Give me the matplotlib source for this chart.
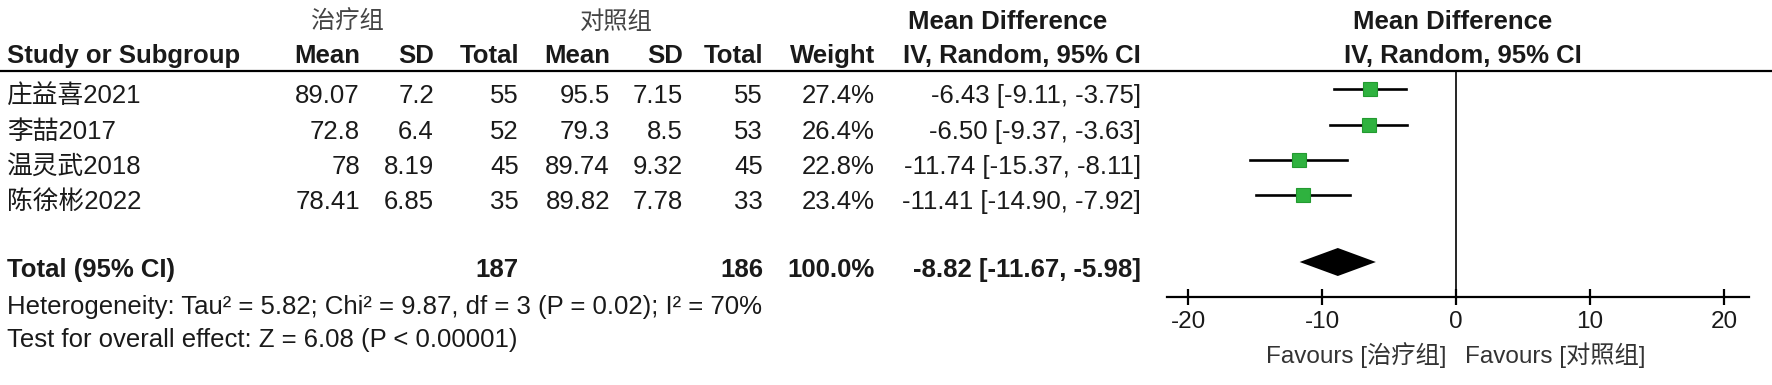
import matplotlib
matplotlib.use("Agg")
import matplotlib.pyplot as plt
from matplotlib import font_manager

# fonts: narrow latin face if present, CJK fallback
names = {f.name for f in font_manager.fontManager.ttflist}
latin = "Liberation Sans Narrow" if "Liberation Sans Narrow" in names else "Liberation Sans"
plt.rcParams["font.family"] = [latin, "Noto Sans CJK SC", "DejaVu Sans"]

# data
studies = ["庄益喜2021", "李喆2017", "温灵武2018", "陈徐彬2022"]
exp_mean = [89.07, 72.8, 78, 78.41]
exp_sd = [7.2, 6.4, 8.19, 6.85]
exp_n = [55, 52, 45, 35]
ctl_mean = [95.5, 79.3, 89.74, 89.82]
ctl_sd = [7.15, 8.5, 9.32, 7.78]
ctl_n = [55, 53, 45, 33]
weight = [27.4, 26.4, 22.8, 23.4]
md = [-6.43, -6.50, -11.74, -11.41]
md_lo = [-9.11, -9.37, -15.37, -14.90]
md_hi = [-3.75, -3.63, -8.11, -7.92]
total_n = [187, 186]
total_md = [-8.82, -11.67, -5.98]
het_text = "Heterogeneity: Tau² = 5.82; Chi² = 9.87, df = 3 (P = 0.02); I² = 70%"
test_text = "Test for overall effect: Z = 6.08 (P < 0.00001)"
xticks = [-20, -10, 0, 10, 20]
group_names = ["治疗组", "对照组"]

W, H = 1772, 385
fig = plt.figure(figsize=(W / 100, H / 100), dpi=100)
tab = fig.add_axes([0, 0, 1, 1])
tab.set_xlim(0, W)
tab.set_ylim(H, 0)
tab.axis("off")

fs = 18.5
col = "#1a1a1a"
cap = 6.8  # half cap height in px, to put baselines


def put(x, y, s, ha="right", bold=False, **kw):
    kw.setdefault("color", col)
    kw.setdefault("fontsize", fs)
    tab.text(x, y + cap, s, ha=ha, va="baseline",
             fontweight="bold" if bold else "normal", **kw)


# column right edges (px)
cx = [360, 434, 519, 610, 683, 763, 875, 1141]
lx = 7

# header
put(347, 22, group_names[0], ha="center", color="#444444", fontsize=17.5)
put(616, 22, group_names[1], ha="center", color="#444444", fontsize=17.5)
put(1008, 22, "Mean Difference", ha="center", bold=True)
put(1453, 22, "Mean Difference", ha="center", bold=True)
put(lx, 56, "Study or Subgroup", ha="left", bold=True)
for x, s in zip(cx, ["Mean", "SD", "Total", "Mean", "SD", "Total", "Weight"]):
    put(x, 56, s, bold=True)
put(1022, 56, "IV, Random, 95% CI", ha="center", bold=True)
put(1463, 56, "IV, Random, 95% CI", ha="center", bold=True)
tab.plot([0, W], [71, 71], color="black", lw=1.6, solid_capstyle="butt")

row_y = [96, 132, 167, 202]
for i, y in enumerate(row_y):
    put(lx, y, studies[i], ha="left")
    vals = [f"{exp_mean[i]:g}", f"{exp_sd[i]:g}", str(exp_n[i]),
            f"{ctl_mean[i]:g}", f"{ctl_sd[i]:g}", str(ctl_n[i]),
            f"{weight[i]:.1f}%",
            f"{md[i]:.2f} [{md_lo[i]:.2f}, {md_hi[i]:.2f}]"]
    for x, s in zip(cx, vals):
        put(x, y, s)

ty = 270
put(lx, ty, "Total (95% CI)", ha="left", bold=True)
put(cx[2], ty, str(total_n[0]), bold=True)
put(cx[5], ty, str(total_n[1]), bold=True)
put(cx[6], ty, f"{sum(weight):.1f}%", bold=True)
put(cx[7], ty, f"{total_md[0]:.2f} [{total_md[1]:.2f}, {total_md[2]:.2f}]", bold=True)
put(lx, 307, het_text, ha="left")
put(lx, 340, test_text, ha="left")

# forest panel
x0_px, ppu = 1456, 13.4
left_px, right_px = 1167, 1749
top_px, axis_px = 71, 297
fp = fig.add_axes([left_px / W, 1 - axis_px / H, (right_px - left_px) / W, (axis_px - top_px) / H])
fp.set_xlim((left_px - x0_px) / ppu, (right_px - x0_px) / ppu)
fp.set_ylim(axis_px, top_px)
fp.patch.set_alpha(0)
for s in ["top", "left", "right"]:
    fp.spines[s].set_visible(False)
fp.spines["bottom"].set_linewidth(1.6)
fp.set_yticks([])
fp.set_xticks(xticks)
fp.set_xticklabels([str(t) for t in xticks])
fp.tick_params(axis="x", direction="inout", length=12, width=1.6,
               labelsize=17.5, labelcolor=col, pad=4)

fp.plot([0, 0], [top_px, axis_px], color="black", lw=1.2)
for i, y in enumerate(row_y):
    ym = y - 7
    fp.plot([md_lo[i], md_hi[i]], [ym, ym], color="black", lw=1.9)
    fp.plot(md[i], ym, marker="s", ms=10.5 * (weight[i] / 27.4) ** 0.5,
            color="#2fb23f", mec="#239a30", mew=0.8)
dy = 262
fp.fill([total_md[1], total_md[0], total_md[2], total_md[0]],
        [dy, dy - 14, dy, dy + 14], color="black", lw=0)

put(1447, 356, "Favours [" + group_names[0] + "]", color="#333333", fontsize=17.5)
put(1465, 356, "Favours [" + group_names[1] + "]", ha="left", color="#333333", fontsize=17.5)

fig.savefig("out.png", dpi=100)
